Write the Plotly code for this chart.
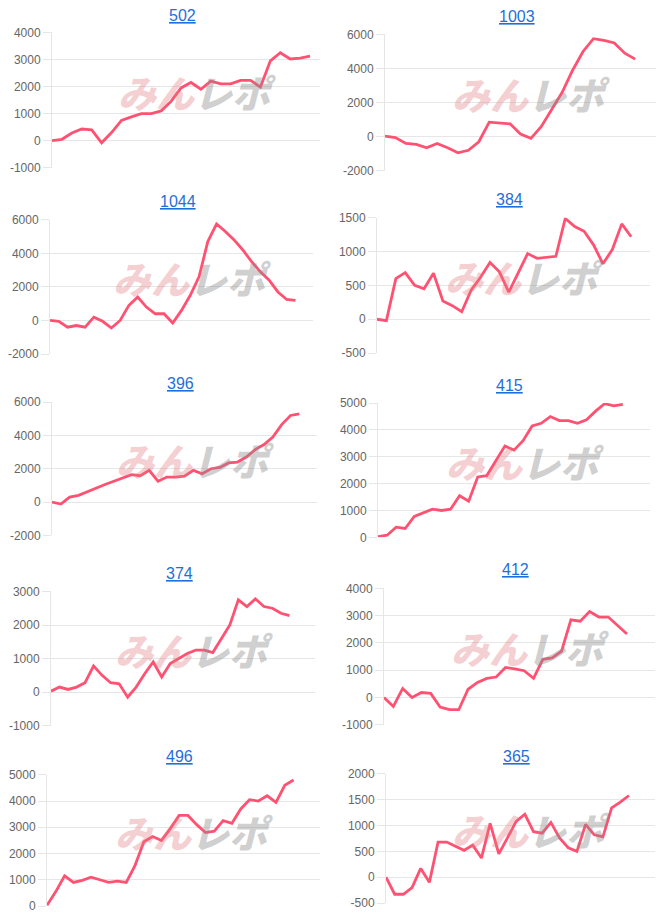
import plotly.graph_objects as go

W, H = 666, 920

# ---- data ----
titles = ["502", "1003", "1044", "384", "396", "415", "374", "412", "496", "365"]

s502 = [0, 50, 280, 430, 400, -80, 300, 750, 880, 1000, 1000, 1100, 1450, 1950, 2150,
        1900, 2200, 2100, 2100, 2230, 2230, 1980, 2950, 3250, 3020, 3050, 3120]
s1003 = [30, -50, -400, -450, -650, -400, -650, -950, -800, -300, 850, 800, 750, 150,
         -100, 600, 1600, 2600, 3900, 5000, 5750, 5650, 5500, 4900, 4550]
s1044 = [0, -50, -400, -300, -400, 200, -50, -450, 0, 900, 1400, 800, 400, 400, -150,
         600, 1500, 2600, 4700, 5750, 5300, 4800, 4200, 3500, 2900, 2400, 1700, 1250, 1200]
s384 = [0, -20, 600, 690, 500, 450, 680, 270, 200, 110, 430, 620, 840, 700, 400, 680,
        970, 900, 910, 930, 1490, 1370, 1300, 1100, 820, 1030, 1410, 1220]
s396 = [0, -120, 300, 400, 620, 850, 1050, 1250, 1450, 1650, 1580, 1900, 1250, 1500,
        1500, 1550, 1900, 1700, 2000, 2080, 2350, 2400, 2700, 3150, 3450, 3900, 4650,
        5200, 5300]
s415 = [30, 80, 380, 330, 780, 920, 1050, 1000, 1050, 1550, 1350, 2250, 2300, 2850,
        3400, 3250, 3600, 4150, 4250, 4500, 4350, 4350, 4250, 4380, 4700, 4980, 4900, 4950]
s374 = [30, 150, 80, 150, 280, 780, 500, 280, 250, -150, 150, 550, 900, 450, 850, 1000,
        1150, 1250, 1250, 1180, 1600, 2000, 2750, 2550, 2780, 2550, 2500, 2350, 2280]
s412 = [0, -330, 330, 0, 180, 150, -350, -450, -450, 300, 550, 700, 750, 1100, 1050,
        980, 700, 1400, 1450, 1700, 2850, 2800, 3150, 2950, 2950, 2650, 2330]
s496 = [30, 550, 1150, 900, 980, 1100, 1000, 900, 950, 900, 1550, 2450, 2650, 2500, 2950,
        3450, 3450, 3100, 2800, 2850, 3250, 3150, 3700, 4050, 4000, 4200, 3950, 4600, 4800]
s365 = [0, -330, -330, -200, 170, -100, 680, 680, 600, 520, 620, 370, 1040, 450, 760,
        1080, 1220, 880, 850, 1060, 760, 570, 500, 1020, 820, 780, 1340, 1450, 1580]

series = [s502, s1003, s1044, s384, s396, s415, s374, s412, s496, s365]
x_slots = [28, 27, 31, 30, 31, 31, 32, 30, 32, 32]
y_ranges = [(-1000, 4000), (-2000, 6000), (-2000, 6000), (-500, 1500), (-2000, 6000),
            (0, 5000), (-1000, 3000), (-1000, 4000), (0, 5000), (-500, 2000)]
y_dticks = [1000, 2000, 2000, 500, 2000, 1000, 1000, 1000, 1000, 500]

# ---- layout geometry (target picture pixels): left, right, top, bottom of plot areas ----
boxes = [(52, 320, 33, 168), (385, 656, 35, 171),
         (50, 313, 220, 354), (377, 650, 218, 353),
         (52, 317, 402, 535), (378, 650, 403, 537),
         (51, 315, 591, 725), (384, 655, 588, 724),
         (47, 320, 774, 905), (386, 655, 773, 902)]
title_y = [16, 17, 202, 200, 383, 385, 573, 569, 756, 756]

# vertical mapping observed between figure pixels and the photographed picture
VOFF, VSCALE = 7.6, 0.983


def px(x):
    return x / W


def py(y):
    f = (y - VOFF) / VSCALE
    return min(1.0, max(0.0, 1 - f / H))


LINE = "#ff5272"
GRID = "#e6e6e6"
TICK = "#666666"

fig = go.Figure()
annotations = []
layout = {}

for i, (name, vals) in enumerate(zip(titles, series)):
    k = i + 1
    xa = "x" if k == 1 else f"x{k}"
    ya = "y" if k == 1 else f"y{k}"
    l, r, t, b = boxes[i]
    lo, hi = y_ranges[i]
    tv = list(range(lo, hi + 1, y_dticks[i]))
    fig.add_trace(go.Scatter(
        x=list(range(len(vals))), y=vals, mode="lines",
        line=dict(color=LINE, width=2.8), xaxis=xa, yaxis=ya,
        hoverinfo="skip", showlegend=False))
    layout[f"xaxis{'' if k == 1 else k}"] = dict(
        domain=[px(l), px(r)], range=[0, x_slots[i] - 1], anchor=ya,
        showgrid=False, showticklabels=False, zeroline=False, showline=False,
        ticks="", fixedrange=True)
    layout[f"yaxis{'' if k == 1 else k}"] = dict(
        domain=[py(b), py(t)], range=[lo, hi], anchor=xa,
        tickmode="array", tickvals=tv, ticktext=[str(v) for v in tv],
        showgrid=True, gridcolor=GRID, gridwidth=1,
        zeroline=False, showline=True, linecolor=GRID, linewidth=1,
        ticks="outside", ticklen=8, tickcolor=GRID, tickwidth=1,
        tickfont=dict(family="Liberation Sans, Arial, sans-serif", size=12, color=TICK),
        fixedrange=True)
    cx = (l + r) / 2
    cy = (t + b) / 2
    # title
    annotations.append(dict(
        x=px(cx - 4), y=py(title_y[i]), xref="paper", yref="paper",
        xanchor="center", yanchor="middle", showarrow=False,
        text=f"<u>{name}</u>",
        font=dict(family="Liberation Sans, Arial, sans-serif", size=16, color="#1f6fd8")))
    # watermark
    annotations.append(dict(
        x=px(cx + 11), y=py(cy - 9), xref="paper", yref="paper",
        xanchor="center", yanchor="middle", showarrow=False,
        text="<i><span style='color:rgba(225,120,125,0.36)'>みん</span>"
             "<span style='color:rgba(140,140,140,0.42)'>レポ</span></i>",
        font=dict(family="Noto Sans CJK JP, sans-serif", size=38, weight=900)))

fig.update_layout(
    width=W, height=H, margin=dict(l=0, r=0, t=0, b=0),
    paper_bgcolor="white", plot_bgcolor="white",
    annotations=annotations, hovermode=False, **layout)

fig.write_html("out.html", config={"displayModeBar": False, "staticPlot": True},
               post_script="document.body.style.margin='0px';"
                           "document.body.style.overflow='hidden';")
